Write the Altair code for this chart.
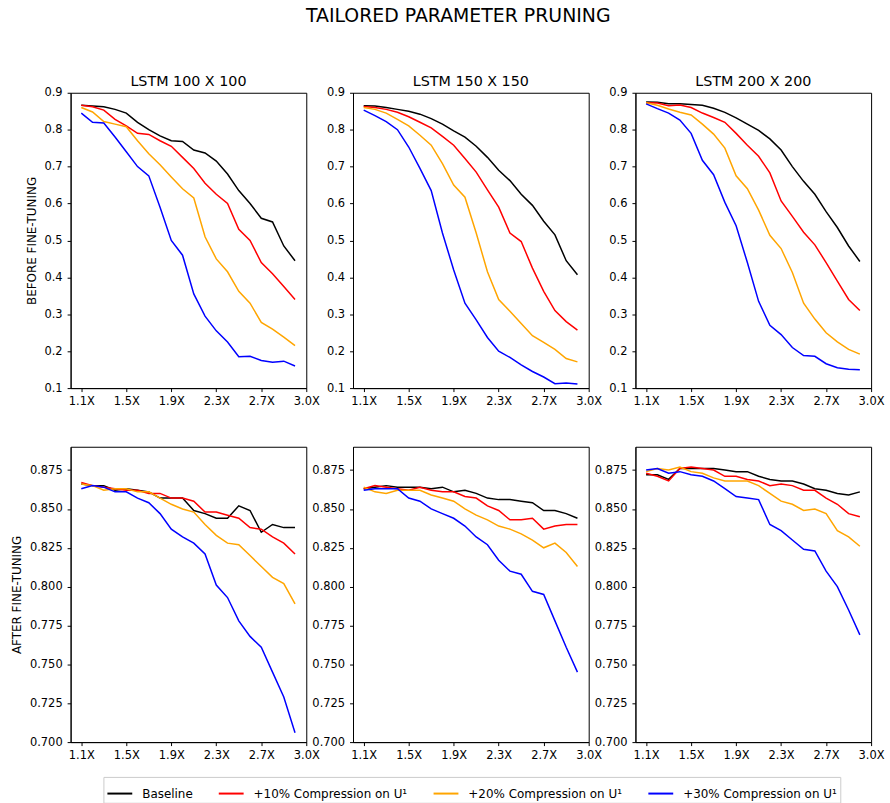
import altair as alt
import pandas as pd

# Compression ratios (x positions of every curve)
RATIO = [1.1, 1.2, 1.3, 1.4, 1.5, 1.6, 1.7, 1.8, 1.9, 2.0,
         2.1, 2.2, 2.3, 2.4, 2.5, 2.6, 2.7, 2.8, 2.9, 3.0]

TICK_VALUES = [1.1, 1.5, 1.9, 2.3, 2.7, 3.1]
TICK_LABELS = ["1.1X", "1.5X", "1.9X", "2.3X", "2.7X", "3.0X"]

NETWORKS = ["LSTM 100 X 100", "LSTM 150 X 150", "LSTM 200 X 200"]
SERIES = ["Baseline", "+10% Compression on U\u00b9",
          "+20% Compression on U\u00b9", "+30% Compression on U\u00b9"]
COLORS = ["#000000", "#ff0000", "#ffa500", "#0000ff"]

# ---- accuracy before fine-tuning ----
BEFORE_100_BASE = [0.866, 0.864, 0.862, 0.855, 0.845, 0.820, 0.800, 0.783, 0.770, 0.768,
                   0.745, 0.737, 0.715, 0.680, 0.635, 0.600, 0.560, 0.550, 0.485, 0.445]
BEFORE_100_P10 = [0.866, 0.862, 0.853, 0.828, 0.810, 0.790, 0.787, 0.770, 0.755, 0.725,
                  0.695, 0.655, 0.625, 0.600, 0.530, 0.500, 0.440, 0.410, 0.375, 0.340]
BEFORE_100_P20 = [0.860, 0.848, 0.822, 0.815, 0.808, 0.770, 0.735, 0.705, 0.672, 0.640,
                  0.615, 0.510, 0.450, 0.415, 0.362, 0.330, 0.278, 0.260, 0.238, 0.215]
BEFORE_100_P30 = [0.845, 0.820, 0.818, 0.780, 0.740, 0.700, 0.675, 0.590, 0.500, 0.460,
                  0.355, 0.295, 0.255, 0.225, 0.185, 0.186, 0.175, 0.170, 0.173, 0.160]

BEFORE_150_BASE = [0.865, 0.864, 0.860, 0.855, 0.850, 0.842, 0.830, 0.815, 0.797, 0.780,
                   0.755, 0.725, 0.690, 0.662, 0.625, 0.595, 0.552, 0.515, 0.445, 0.407]
BEFORE_150_P10 = [0.863, 0.860, 0.855, 0.847, 0.835, 0.820, 0.805, 0.782, 0.758, 0.722,
                  0.685, 0.637, 0.590, 0.520, 0.497, 0.425, 0.362, 0.310, 0.280, 0.257]
BEFORE_150_P20 = [0.860, 0.855, 0.845, 0.828, 0.810, 0.785, 0.758, 0.708, 0.650, 0.617,
                  0.520, 0.415, 0.340, 0.308, 0.275, 0.242, 0.224, 0.205, 0.180, 0.171]
BEFORE_150_P30 = [0.853, 0.838, 0.822, 0.800, 0.753, 0.695, 0.635, 0.520, 0.420, 0.330,
                  0.285, 0.237, 0.200, 0.183, 0.163, 0.145, 0.130, 0.112, 0.114, 0.111]

BEFORE_200_BASE = [0.875, 0.874, 0.870, 0.870, 0.868, 0.866, 0.858, 0.847, 0.832, 0.815,
                   0.798, 0.775, 0.745, 0.700, 0.660, 0.625, 0.578, 0.535, 0.485, 0.443]
BEFORE_200_P10 = [0.873, 0.872, 0.865, 0.867, 0.860, 0.845, 0.833, 0.820, 0.790, 0.758,
                  0.728, 0.683, 0.607, 0.565, 0.522, 0.488, 0.440, 0.390, 0.340, 0.310]
BEFORE_200_P20 = [0.873, 0.866, 0.856, 0.847, 0.840, 0.815, 0.788, 0.750, 0.675, 0.640,
                  0.582, 0.514, 0.478, 0.413, 0.330, 0.287, 0.250, 0.225, 0.205, 0.192]
BEFORE_200_P30 = [0.870, 0.857, 0.845, 0.826, 0.790, 0.717, 0.678, 0.603, 0.540, 0.440,
                  0.335, 0.270, 0.245, 0.210, 0.188, 0.186, 0.166, 0.155, 0.151, 0.150]

# ---- accuracy after fine-tuning ----
AFTER_100_BASE = [0.866, 0.865, 0.865, 0.862, 0.863, 0.862, 0.861, 0.857, 0.857, 0.857,
                  0.849, 0.847, 0.844, 0.844, 0.852, 0.849, 0.835, 0.840, 0.838, 0.838]
AFTER_100_P10 = [0.867, 0.865, 0.864, 0.863, 0.862, 0.862, 0.860, 0.860, 0.857, 0.857,
                 0.855, 0.848, 0.848, 0.846, 0.844, 0.838, 0.837, 0.832, 0.828, 0.821]
AFTER_100_P20 = [0.866, 0.865, 0.862, 0.863, 0.863, 0.861, 0.861, 0.857, 0.853, 0.850,
                 0.848, 0.840, 0.833, 0.828, 0.827, 0.820, 0.813, 0.806, 0.802, 0.789]
AFTER_100_P30 = [0.863, 0.865, 0.864, 0.861, 0.861, 0.857, 0.854, 0.847, 0.837, 0.832,
                 0.828, 0.821, 0.801, 0.793, 0.778, 0.768, 0.761, 0.745, 0.729, 0.706]

AFTER_150_BASE = [0.863, 0.864, 0.865, 0.864, 0.864, 0.864, 0.863, 0.864, 0.861, 0.862,
                  0.860, 0.857, 0.856, 0.856, 0.855, 0.854, 0.849, 0.849, 0.847, 0.844]
AFTER_150_P10 = [0.863, 0.865, 0.864, 0.863, 0.862, 0.864, 0.862, 0.861, 0.861, 0.858,
                 0.857, 0.852, 0.849, 0.843, 0.843, 0.844, 0.837, 0.839, 0.840, 0.840]
AFTER_150_P20 = [0.864, 0.861, 0.860, 0.862, 0.862, 0.862, 0.859, 0.857, 0.855, 0.850,
                 0.846, 0.843, 0.839, 0.837, 0.834, 0.830, 0.825, 0.828, 0.822, 0.813]
AFTER_150_P30 = [0.862, 0.863, 0.863, 0.863, 0.857, 0.855, 0.850, 0.847, 0.844, 0.839,
                 0.832, 0.827, 0.817, 0.810, 0.808, 0.797, 0.795, 0.778, 0.761, 0.745]

AFTER_200_BASE = [0.872, 0.872, 0.869, 0.876, 0.876, 0.876, 0.876, 0.875, 0.874, 0.874,
                  0.871, 0.869, 0.868, 0.868, 0.866, 0.863, 0.862, 0.860, 0.859, 0.861]
AFTER_200_P10 = [0.873, 0.871, 0.868, 0.876, 0.877, 0.876, 0.875, 0.871, 0.871, 0.869,
                 0.868, 0.865, 0.866, 0.865, 0.862, 0.862, 0.857, 0.853, 0.847, 0.845]
AFTER_200_P20 = [0.874, 0.876, 0.875, 0.877, 0.874, 0.873, 0.870, 0.868, 0.868, 0.868,
                 0.865, 0.860, 0.855, 0.853, 0.849, 0.850, 0.847, 0.836, 0.832, 0.826]
AFTER_200_P30 = [0.875, 0.876, 0.873, 0.874, 0.872, 0.871, 0.868, 0.863, 0.858, 0.857,
                 0.856, 0.840, 0.836, 0.830, 0.824, 0.823, 0.810, 0.800, 0.785, 0.769]

BEFORE = [
    [BEFORE_100_BASE, BEFORE_100_P10, BEFORE_100_P20, BEFORE_100_P30],
    [BEFORE_150_BASE, BEFORE_150_P10, BEFORE_150_P20, BEFORE_150_P30],
    [BEFORE_200_BASE, BEFORE_200_P10, BEFORE_200_P20, BEFORE_200_P30],
]
AFTER = [
    [AFTER_100_BASE, AFTER_100_P10, AFTER_100_P20, AFTER_100_P30],
    [AFTER_150_BASE, AFTER_150_P10, AFTER_150_P20, AFTER_150_P30],
    [AFTER_200_BASE, AFTER_200_P10, AFTER_200_P20, AFTER_200_P30],
]

FONT = "DejaVu Sans"
PANEL_W = 237
PANEL_H = 297

# tick label lookup: value -> text
label_expr = " : ".join(
    [f"abs(datum.value - {v}) < 0.01 ? '{t}'" for v, t in zip(TICK_VALUES, TICK_LABELS)]
) + " : ''"

color_scale = alt.Scale(domain=SERIES, range=COLORS)
legend = alt.Legend(
    title=None, orient="none", legendX=33, legendY=688,
    direction="horizontal", columns=4,
    symbolType="stroke", symbolSize=625, symbolStrokeWidth=2,
    labelFont=FONT, labelFontSize=12, labelColor="#000000",
    labelOffset=9, columnPadding=22, padding=3,
    strokeColor="#cccccc", fillColor="#ffffff", cornerRadius=0,
)

AXIS_STYLE = dict(
    grid=False, domainColor="#000000", domainWidth=1,
    tickColor="#000000", tickSize=3.5, tickWidth=1,
    labelFont=FONT, labelFontSize=11.5, labelColor="#000000",
    titleFont=FONT, titleFontSize=12, titleFontWeight="normal", titleColor="#000000",
)


def panel(series_values, y_domain, y_ticks, y_fmt, y_title, title):
    layers = []
    for name, values in zip(SERIES, series_values):
        df = pd.DataFrame({"ratio": RATIO, "acc": values, "series": name})
        layers.append(
            alt.Chart(df).mark_line(strokeWidth=1.5, clip=True).encode(
                x=alt.X("ratio:Q",
                        scale=alt.Scale(domain=[1.005, 3.1], nice=False, zero=False),
                        axis=alt.Axis(values=TICK_VALUES, labelExpr=label_expr,
                                      labelFlush=False, labelPadding=4, **AXIS_STYLE),
                        title=None),
                y=alt.Y("acc:Q",
                        scale=alt.Scale(domain=y_domain, nice=False, zero=False),
                        axis=alt.Axis(values=y_ticks, format=y_fmt, labelPadding=5,
                                      titlePadding=6, **AXIS_STYLE),
                        title=y_title if y_title else None),
                color=alt.Color("series:N", scale=color_scale, legend=legend),
            )
        )
    ch = alt.layer(*layers).properties(width=PANEL_W, height=PANEL_H)
    if title:
        ch = ch.properties(title=alt.TitleParams(
            title, fontSize=14.4, fontWeight="normal", font=FONT, color="#000000", offset=-3))
    return ch


TOP_TICKS = [0.1, 0.2, 0.3, 0.4, 0.5, 0.6, 0.7, 0.8, 0.9]
BOTTOM_TICKS = [0.700, 0.725, 0.750, 0.775, 0.800, 0.825, 0.850, 0.875]

charts = []
for i, net in enumerate(NETWORKS):
    charts.append(panel(BEFORE[i], [0.1, 0.9], TOP_TICKS, ".1f",
                        "BEFORE FINE-TUNING" if i == 0 else None, net))
for i, net in enumerate(NETWORKS):
    charts.append(panel(AFTER[i], [0.7, 0.89], BOTTOM_TICKS, ".3f",
                        "AFTER FINE-TUNING" if i == 0 else None, None))

chart = alt.concat(
    *charts, columns=3, bounds="flush",
    spacing=alt.RowColnumber(row=59, column=47),
).properties(
    title=alt.TitleParams("TAILORED PARAMETER PRUNING", fontSize=19, fontWeight="normal",
                          font=FONT, color="#000000", anchor="middle", offset=48, dx=11),
    padding={"left": 10, "top": 5, "right": 5, "bottom": 5},
    background="#ffffff",
).configure_view(
    stroke="#000000", strokeWidth=1,
)

chart.save("out.html", embed_options={"renderer": "svg", "actions": False})
